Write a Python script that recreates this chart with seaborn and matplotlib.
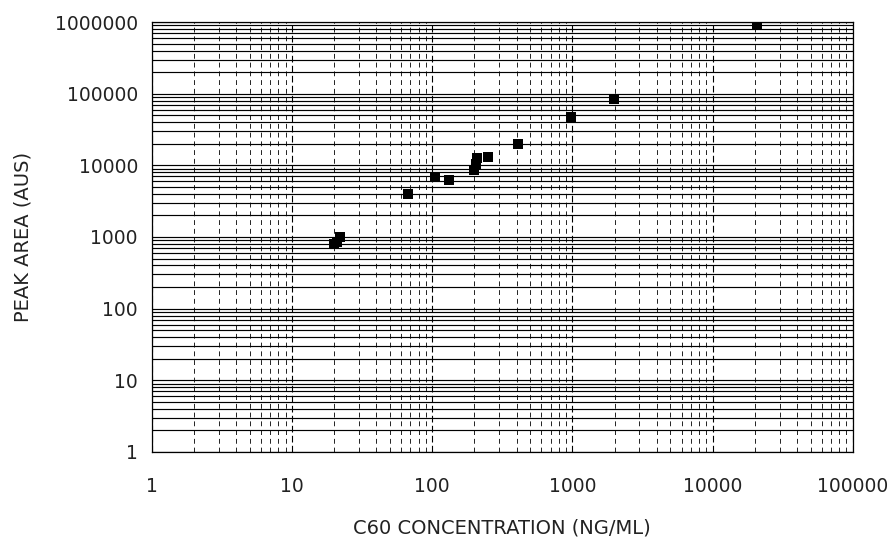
import matplotlib
matplotlib.use("Agg")
import matplotlib.pyplot as plt
from matplotlib.ticker import LogLocator, NullFormatter, FixedLocator
import seaborn as sns
import pandas as pd

# C60 calibration points
conc_ng_ml = [20, 21, 22, 67, 104, 131, 200, 205, 210, 251, 408, 977, 1970, 20600]
peak_area = [800, 850, 1000, 4000, 6800, 6200, 8500, 10500, 12500, 13000, 20000, 47000, 83500, 930000]

x_ticks = [1, 10, 100, 1000, 10000, 100000]
y_ticks = [1, 10, 100, 1000, 10000, 100000, 1000000]

sns.set_style("white")
plt.rcParams["font.family"] = ["DejaVu Sans"]

df = pd.DataFrame({"conc": conc_ng_ml, "area": peak_area})

fig, ax = plt.subplots(figsize=(8.93, 5.38), dpi=100)
fig.subplots_adjust(left=0.170, right=0.955, top=0.959, bottom=0.160)

sns.scatterplot(data=df, x="conc", y="area", marker="s", s=60,
                color="black", edgecolor="black", linewidth=0, ax=ax, zorder=3)

ax.set_xscale("log")
ax.set_yscale("log")
ax.set_xlim(1, 100000)
ax.set_ylim(1, 1000000)

ax.xaxis.set_major_locator(FixedLocator(x_ticks))
ax.yaxis.set_major_locator(FixedLocator(y_ticks))
ax.set_xticklabels([str(v) for v in x_ticks])
ax.set_yticklabels([str(v) for v in y_ticks])
ax.xaxis.set_minor_locator(LogLocator(base=10, subs=range(2, 10), numticks=20))
ax.yaxis.set_minor_locator(LogLocator(base=10, subs=range(2, 10), numticks=20))
ax.xaxis.set_minor_formatter(NullFormatter())
ax.yaxis.set_minor_formatter(NullFormatter())

# scanned-paper style grid: solid horizontals, broken verticals
ax.grid(axis="y", which="both", color="black", lw=0.85)
ax.grid(axis="x", which="major", color="black", lw=0.8, linestyle=(0, (6, 3)))
ax.grid(axis="x", which="minor", color="#222222", lw=0.7, linestyle=(0, (5, 4)))

ax.tick_params(axis="both", which="major", length=0,
               labelsize=13.5, labelcolor="#222222")
ax.tick_params(axis="both", which="minor", length=0)
ax.tick_params(axis="x", pad=18)
ax.tick_params(axis="y", pad=10)

for sp in ax.spines.values():
    sp.set_color("black")
    sp.set_linewidth(0.9)

ax.set_xlabel("C60 CONCENTRATION (NG/ML)", fontsize=14, color="#222222", labelpad=16)
ax.set_ylabel("PEAK AREA (AUS)", fontsize=14, color="#222222", labelpad=16)

fig.savefig("out.png", dpi=100)
